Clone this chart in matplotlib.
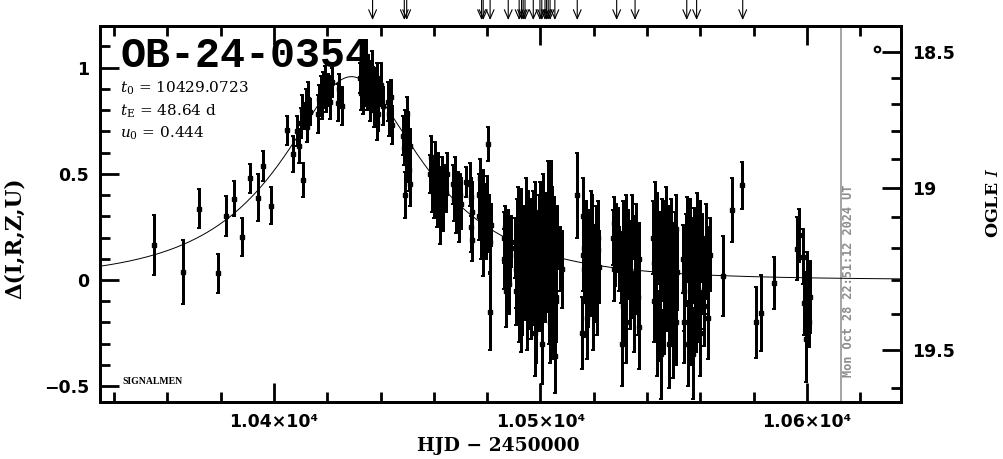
import numpy as np
import matplotlib
matplotlib.use("Agg")
import matplotlib.pyplot as plt

plt.rcParams['mathtext.fontset'] = 'dejavuserif'

# ---------------- data ----------------
event_name = "OB-24-0354"
t0 = 10429.0723
tE = 48.64
u0 = 0.444
now_hjd = 10612.9
now_label = "Mon Oct 28 22:51:12 2024 UT"

# early isolated points
t_a = [10355.1, 10366.0, 10372.0, 10379.0, 10382.0, 10385.0, 10388.0, 10391.0, 10393.9, 10396.0,
       10398.9, 10404.9, 10407.0]
d_a = [0.165, 0.038, 0.336, 0.031, 0.301, 0.383, 0.203, 0.479, 0.388, 0.537,
       0.349, 0.705, 0.592]
e_a = [0.141, 0.149, 0.092, 0.090, 0.093, 0.082, 0.090, 0.067, 0.109, 0.071,
       0.087, 0.068, 0.084]

# rising part / peak
t_b = [10408.8, 10409.4, 10410.0, 10410.6, 10411.0, 10411.4, 10411.9, 10412.4, 10412.9, 10413.4,
       10416.6, 10417.0, 10417.5, 10417.9, 10418.4, 10418.8, 10419.2, 10419.7, 10420.1, 10420.6,
       10421.1, 10421.6, 10423.9, 10424.5, 10425.5,
       10432.3, 10432.6, 10432.9, 10433.2, 10433.5, 10433.8, 10434.1, 10434.2, 10434.4, 10434.7,
       10435.0, 10435.3, 10435.6, 10435.9, 10436.2, 10436.5, 10436.8, 10437.1, 10437.4, 10437.7,
       10438.0, 10438.3, 10438.5, 10438.6, 10438.9, 10439.2,
       10440.3, 10440.9, 10442.6, 10443.2, 10443.8, 10444.2]
d_b = [0.70, 0.63, 0.74, 0.80, 0.47, 0.77, 0.83, 0.72, 0.85, 0.79,
       0.78, 0.85, 0.90, 0.83, 0.92, 0.88, 0.95, 0.86, 0.91, 0.89,
       0.84, 0.93, 0.835, 0.90, 0.82,
       0.95, 0.88, 1.02, 0.92, 0.85, 0.98, 0.90, 1.06, 1.05, 0.94,
       0.87, 0.99, 0.91, 0.83, 0.96, 0.89, 1.00, 0.86, 0.93, 0.80,
       0.90, 0.84, 0.74, 0.95, 0.78, 0.88,
       0.92, 0.82, 0.84, 0.78, 0.86, 0.73]
e_b = [0.07, 0.08, 0.07, 0.07, 0.08, 0.06, 0.07, 0.07, 0.08, 0.06,
       0.09, 0.07, 0.06, 0.07, 0.06, 0.07, 0.06, 0.07, 0.06, 0.07,
       0.08, 0.07, 0.087, 0.07, 0.09,
       0.07, 0.08, 0.09, 0.06, 0.07, 0.07, 0.08, 0.07, 0.08, 0.06,
       0.07, 0.07, 0.06, 0.08, 0.07, 0.06, 0.08, 0.07, 0.07, 0.08,
       0.06, 0.07, 0.08, 0.07, 0.08, 0.07,
       0.10, 0.09, 0.09, 0.10, 0.08, 0.09]

# decline
t_c = [10448.4, 10448.8, 10449.1, 10449.2, 10449.4, 10449.7, 10449.9, 10450.0, 10450.3, 10450.6,
       10450.9, 10451.2,
       10458.6, 10459.0, 10459.3, 10459.7, 10460.0, 10460.4, 10460.8, 10461.2, 10461.6, 10462.0,
       10462.3, 10462.5, 10463.0, 10463.5, 10464.0, 10464.5, 10465.0,
       10467.0, 10467.5, 10468.0, 10468.4, 10468.9, 10469.3, 10469.8, 10470.3,
       10471.9, 10473.6, 10473.8, 10474.0, 10474.2, 10474.4]
d_c = [0.68, 0.62, 0.72, 0.40, 0.55, 0.65, 0.78, 0.60, 0.70, 0.52,
       0.63, 0.45,
       0.50, 0.58, 0.42, 0.48, 0.38, 0.55, 0.45, 0.36, 0.52, 0.44,
       0.30, 0.40, 0.49, 0.35, 0.46, 0.41, 0.50,
       0.45, 0.38, 0.50, 0.33, 0.42, 0.28, 0.40, 0.36,
       0.46, 0.45, 0.39, 0.25, 0.19, 0.32]
e_c = [0.09, 0.08, 0.08, 0.11, 0.09, 0.07, 0.08, 0.08, 0.09, 0.10,
       0.08, 0.10,
       0.09, 0.10, 0.10, 0.08, 0.09, 0.10, 0.09, 0.11, 0.08, 0.09,
       0.13, 0.10, 0.09, 0.12, 0.08, 0.09, 0.10,
       0.09, 0.10, 0.08, 0.11, 0.09, 0.10, 0.10, 0.12,
       0.07, 0.10, 0.09, 0.12, 0.10, 0.14]

# baseline season
t_d = [10476.8, 10477.1, 10477.4, 10477.7, 10478.0, 10478.3, 10478.6, 10478.9, 10479.2, 10479.5,
       10479.8, 10480.1, 10480.4, 10480.7, 10480.9, 10481.0, 10481.3,
       10486.2, 10486.5, 10486.8, 10487.1, 10487.4, 10487.7, 10488.0, 10488.3, 10488.6, 10488.9,
       10490.6, 10490.9, 10491.3, 10491.5, 10491.9, 10492.1, 10492.4, 10492.8, 10493.0, 10493.3,
       10493.7, 10493.9, 10494.2, 10494.6, 10494.8, 10495.1, 10495.5, 10495.7, 10496.0, 10496.4,
       10496.6, 10496.9, 10497.3, 10497.5, 10497.8, 10498.2, 10498.4, 10498.7, 10499.1, 10499.3,
       10499.6, 10500.0, 10500.2, 10500.5, 10500.9, 10501.1, 10501.4, 10501.8, 10502.0, 10502.3,
       10502.7, 10502.9, 10503.2, 10503.6, 10503.8, 10504.1, 10504.5, 10504.7, 10505.0, 10505.4,
       10505.6, 10505.9, 10506.3,
       10507.5, 10508.2]
d_d = [0.40, 0.30, 0.48, 0.22, 0.35, 0.15, 0.42, 0.28, 0.33, 0.20,
       0.38, 0.25, 0.64, 0.30, -0.15, 0.18, 0.26,
       0.20, 0.10, 0.25, -0.05, 0.15, 0.05, 0.22, -0.02, 0.12, 0.18,
       0.15, -0.05, 0.25, 0.08, -0.12, 0.20, 0.02, 0.30, -0.08, 0.12,
       0.18, -0.02, 0.22, 0.05, -0.15, 0.10, 0.28, 0.00, 0.14, -0.10,
       0.24, 0.06, -0.04, 0.18, 0.32, 0.10, -0.20, 0.16, 0.04, 0.26,
       -0.06, 0.12, 0.20, -0.30, 0.08, 0.35, 0.14, -0.02, 0.22, 0.02,
       0.38, 0.10, -0.12, 0.18, 0.38, 0.00, 0.12, -0.18, 0.24, -0.36,
       0.16, -0.08, 0.20,
       0.10, 0.05]
e_d = [0.10, 0.11, 0.09, 0.12, 0.10, 0.13, 0.10, 0.11, 0.12, 0.10,
       0.11, 0.12, 0.08, 0.10, 0.18, 0.14, 0.10,
       0.12, 0.14, 0.10, 0.17, 0.12, 0.15, 0.11, 0.14, 0.13, 0.12,
       0.14, 0.16, 0.13, 0.15, 0.17, 0.14, 0.16, 0.13, 0.18, 0.15,
       0.14, 0.17, 0.13, 0.15, 0.18, 0.16, 0.14, 0.17, 0.15, 0.18,
       0.14, 0.16, 0.17, 0.15, 0.14, 0.16, 0.19, 0.15, 0.17, 0.14,
       0.18, 0.16, 0.15, 0.19, 0.16, 0.15, 0.17, 0.18, 0.15, 0.17,
       0.18, 0.16, 0.18, 0.15, 0.18, 0.17, 0.16, 0.19, 0.15, 0.17,
       0.16, 0.18, 0.15,
       0.15, 0.18]

t_e = [10513.7,
       10515.6, 10515.8, 10516.2, 10516.5, 10516.9, 10517.2, 10517.6, 10518.0, 10518.3, 10518.7,
       10519.0, 10519.4, 10519.8, 10520.1, 10520.5, 10520.9, 10521.3, 10521.7, 10522.1,
       10527.3, 10527.7, 10528.1, 10528.5, 10528.9, 10529.3, 10530.3, 10530.6, 10531.0, 10531.3,
       10531.7, 10532.0, 10532.4, 10533.0, 10533.5, 10534.0, 10534.5, 10535.0, 10535.5, 10536.0,
       10536.5, 10537.0,
       10542.3, 10542.7, 10543.1, 10543.5, 10543.9, 10544.3, 10544.7, 10545.1, 10545.5, 10545.9,
       10546.3, 10546.7, 10547.1, 10547.5, 10547.9, 10548.3, 10548.7, 10549.1, 10549.5, 10549.9,
       10550.3, 10550.7, 10551.1,
       10553.6, 10554.0, 10554.4, 10554.8, 10555.2, 10555.6, 10556.0, 10556.4, 10556.8, 10557.2,
       10557.6, 10558.0, 10558.4, 10558.8, 10559.2, 10559.6, 10560.0, 10560.5, 10561.0, 10561.5,
       10562.0, 10562.5, 10563.0, 10563.5]
d_e = [0.40,
       -0.25, 0.30, 0.05, 0.15, -0.10, 0.22, 0.08, -0.05, 0.18, 0.12,
       0.00, 0.25, -0.15, 0.10, 0.03, 0.20, -0.08, 0.14, 0.06,
       0.20, 0.27, 0.12, 0.22, 0.17, 0.10, 0.05, -0.30, 0.22, -0.10,
       0.15, -0.20, 0.08, 0.18, -0.05, 0.12, 0.25, -0.15, 0.02, 0.20,
       -0.08, 0.10,
       0.20, -0.10, 0.30, 0.05, -0.25, 0.15, 0.00, -0.35, 0.22, 0.08,
       -0.15, 0.12, 0.28, -0.05, 0.18, -0.30, 0.05, 0.22, -0.12, 0.10,
       0.16, -0.20, 0.04,
       0.10, -0.20, 0.05, 0.15, -0.30, 0.00, 0.22, -0.10, 0.12, -0.35,
       0.18, 0.05, -0.15, 0.25, -0.05, 0.10, -0.25, 0.15, 0.02, -0.12,
       0.20, 0.08, -0.18, 0.12]
e_e = [0.20,
       0.17, 0.18, 0.15, 0.16, 0.17, 0.15, 0.16, 0.17, 0.15, 0.16,
       0.17, 0.15, 0.18, 0.16, 0.17, 0.15, 0.18, 0.16, 0.17,
       0.13, 0.12, 0.15, 0.14, 0.13, 0.15, 0.16, 0.20, 0.15, 0.18,
       0.16, 0.19, 0.17, 0.15, 0.18, 0.16, 0.15, 0.19, 0.17, 0.16,
       0.18, 0.17,
       0.17, 0.19, 0.16, 0.18, 0.20, 0.17, 0.19, 0.21, 0.16, 0.18,
       0.20, 0.17, 0.16, 0.19, 0.17, 0.21, 0.18, 0.16, 0.19, 0.17,
       0.16, 0.20, 0.18,
       0.16, 0.19, 0.17, 0.16, 0.20, 0.18, 0.16, 0.19, 0.17, 0.21,
       0.16, 0.18, 0.19, 0.16, 0.18, 0.17, 0.20, 0.16, 0.18, 0.19,
       0.16, 0.17, 0.19, 0.17]

# extra overlapping points inside the dense baseline clumps
t_g = [10490.8, 10491.7, 10492.6, 10493.5, 10494.4, 10495.3, 10496.2, 10497.1, 10498.0, 10498.9,
       10499.8, 10500.7, 10501.6, 10502.5, 10503.4, 10504.3, 10505.2, 10506.0,
       10516.0, 10517.4, 10518.9, 10520.3, 10521.5,
       10527.5, 10529.0, 10530.8, 10532.2, 10533.8, 10535.3, 10536.8,
       10542.5, 10543.7, 10544.9, 10546.1, 10547.3, 10548.5, 10549.7, 10550.9,
       10553.8, 10555.0, 10556.2, 10557.4, 10558.6, 10559.8, 10561.2, 10562.7]
d_g = [0.05, 0.28, -0.15, 0.18, 0.32, -0.05, 0.10, 0.26, -0.25, 0.02,
       0.30, -0.12, 0.24, 0.06, -0.20, 0.28, 0.08, -0.10,
       0.12, -0.18, 0.26, -0.02, 0.20,
       0.05, 0.20, -0.12, 0.25, 0.00, 0.14, -0.22,
       0.08, 0.25, -0.18, 0.20, -0.02, 0.12, -0.25, 0.24,
       -0.05, 0.22, -0.20, 0.08, -0.10, 0.20, -0.04, 0.02]
e_g = [0.18, 0.16, 0.19, 0.17, 0.16, 0.18, 0.17, 0.16, 0.20, 0.18,
       0.16, 0.19, 0.17, 0.18, 0.19, 0.16, 0.18, 0.19,
       0.17, 0.19, 0.16, 0.18, 0.17,
       0.15, 0.14, 0.19, 0.15, 0.18, 0.16, 0.20,
       0.18, 0.16, 0.20, 0.17, 0.19, 0.17, 0.21, 0.16,
       0.19, 0.17, 0.20, 0.18, 0.19, 0.17, 0.19, 0.18]

t_f = [10568.6, 10571.7, 10575.7, 10580.9, 10582.9, 10587.7,
       10596.4, 10596.9, 10598.5, 10598.8, 10599.7, 10600.2, 10600.7, 10601.1]
d_f = [0.019, 0.33, 0.446, -0.20, -0.157, -0.013,
       0.148, 0.21, 0.11, -0.11, -0.28, -0.03, -0.196, -0.08]
e_f = [0.19, 0.15, 0.112, 0.167, 0.179, 0.123,
       0.148, 0.126, 0.13, 0.15, 0.20, 0.16, 0.12, 0.17]

# alert arrows (times) at top
arrow_t = [10437.0, 10448.9, 10449.8, 10477.9, 10478.5, 10481.1, 10487.9, 10492.0, 10492.9,
           10493.5, 10494.2, 10497.3, 10499.8, 10500.5, 10501.7, 10502.3, 10502.9, 10503.6,
           10505.4, 10513.8, 10528.6, 10535.5, 10554.9, 10558.6, 10575.9]

# right axis (OGLE I magnitude)
mag_major = [18.5, 19.0, 19.5]
mag_minor = [18.6, 18.7, 18.8, 18.9, 19.1, 19.2, 19.3, 19.4, 19.6]
mag_labels = ["18.5", "19", "19.5"]
I_base = 19.3
blend_k = 0.355

y_major = [-0.5, 0.0, 0.5, 1.0]
y_labels = ["\u22120.5", "0", "0.5", "1"]
x_major = [10400, 10500, 10600]
x_labels = ["1.04\u00d710\u2074", "1.05\u00d710\u2074", "1.06\u00d710\u2074"]


def mag_to_delta(m):
    f = 10 ** (-0.4 * (np.asarray(m) - I_base))
    return 2.5 * np.log10((f - blend_k) / (1 - blend_k))


def pspl(t):
    u = np.sqrt(u0 ** 2 + ((t - t0) / tE) ** 2)
    A = (u ** 2 + 2) / (u * np.sqrt(u ** 2 + 4))
    return 2.5 * np.log10(A)


# ---------------- figure ----------------
W, H = 1004, 459
fig = plt.figure(figsize=(W / 100, H / 100), dpi=100)
L, R, T, B = 100, 901, 26, 401.5
ax = fig.add_axes([L / W, 1 - B / H, (R - L) / W, (B - T) / H])

xlim = (10334.7, 10635.3)
ylim = (-0.572, 1.196)
ax.set_xlim(*xlim)
ax.set_ylim(*ylim)

t_all = np.concatenate([t_a, t_b, t_c, t_d, t_e, t_g, t_f])
d_all = np.concatenate([d_a, d_b, d_c, d_d, d_e, d_g, d_f])
e_all = np.concatenate([e_a, e_b, e_c, e_d, e_e, e_g, e_f])
eb = ax.errorbar(t_all, d_all, yerr=e_all, fmt='s', ms=2.2, color='k', ecolor='k',
                 elinewidth=1.8, capsize=1.4, capthick=1.4, zorder=3)
for coll in eb[2]:
    coll.set_antialiased(False)

tt = np.linspace(xlim[0], xlim[1], 1200)
ax.plot(tt, pspl(tt), color='k', lw=0.7, zorder=2)

ax.axvline(now_hjd, color='#8c8c8c', lw=1.1, zorder=1)

ax.plot([10626.2], [1.09], 'o', ms=4, mfc='white', mec='k', mew=1.5, clip_on=False)

for s in ax.spines.values():
    s.set_linewidth(2.0)

ax.set_xticks(x_major)
ax.set_xticklabels(x_labels)
ax.set_xticks(np.arange(10340, 10640, 20), minor=True)
ax.set_yticks(y_major)
ax.set_yticklabels(y_labels)
ax.set_yticks(np.arange(-0.5, 1.15, 0.1), minor=True)
ax.tick_params(which='both', direction='in', top=True, right=False, width=2)
ax.tick_params(which='major', length=14, labelsize=12.5, pad=8)
ax.tick_params(which='minor', length=7)
for lab in ax.get_xticklabels() + ax.get_yticklabels():
    lab.set_fontweight('bold')

ax2 = ax.twinx()
ax2.set_ylim(*ylim)
ax2.set_yticks(mag_to_delta(mag_major))
ax2.set_yticklabels(mag_labels)
ax2.set_yticks(mag_to_delta(mag_minor), minor=True)
ax2.tick_params(which='both', direction='in', width=2)
ax2.tick_params(which='major', length=14, labelsize=12.5, pad=8)
ax2.tick_params(which='minor', length=7)
for lab in ax2.get_yticklabels():
    lab.set_fontweight('bold')
for s in ax2.spines.values():
    s.set_linewidth(2.0)

# arrows
for ta in arrow_t:
    ax.annotate('', xy=(ta, 1.016), xytext=(ta, 1.07),
                xycoords=('data', 'axes fraction'), textcoords=('data', 'axes fraction'),
                arrowprops=dict(arrowstyle='->,head_length=0.8,head_width=0.35', lw=0.8,
                                color='k', mutation_scale=8, shrinkA=0, shrinkB=0),
                annotation_clip=False)


def fx(x):
    return x / W


def fy(y):
    return 1 - y / H


fig.text(fx(121), fy(66.7), event_name, family='Liberation Mono', fontweight='bold',
         fontsize=30, va='baseline', ha='left')

pfont = dict(family='DejaVu Serif', fontsize=11, color='k')
fig.text(fx(120), fy(92.7), r'$t_0$ = 10429.0723', va='baseline', ha='left', **pfont)
fig.text(fx(120), fy(116), r'$t_\mathrm{E}$ = 48.64 d', va='baseline', ha='left', **pfont)
fig.text(fx(120), fy(138), r'$u_0$ = 0.444', va='baseline', ha='left', **pfont)

fig.text(fx(122), fy(384), 'SIGNALMEN', family='Liberation Serif', fontsize=7,
         fontweight='bold', va='baseline', ha='left')

fig.text(fx(848.3), fy(281), now_label, rotation=90, color='#8c8c8c',
         family='DejaVu Sans Mono', fontweight='bold', fontsize=8.6,
         va='center', ha='center')

fig.text(fx(498), fy(446), 'HJD \u2212 2450000', family='DejaVu Serif', fontweight='bold',
         fontsize=13.5, ha='center', va='center')
fig.text(fx(15), fy(238), '\u0394(I,R,Z,U)', family='DejaVu Serif', fontweight='bold',
         fontsize=15.5, rotation=90, ha='center', va='center')
fig.text(fx(994), fy(203), r'OGLE $\mathbf{\mathit{I}}$', family='DejaVu Serif', fontweight='bold',
         fontsize=12.5, rotation=90, ha='center', va='center')

fig.savefig('out.png', dpi=100, facecolor='white')
